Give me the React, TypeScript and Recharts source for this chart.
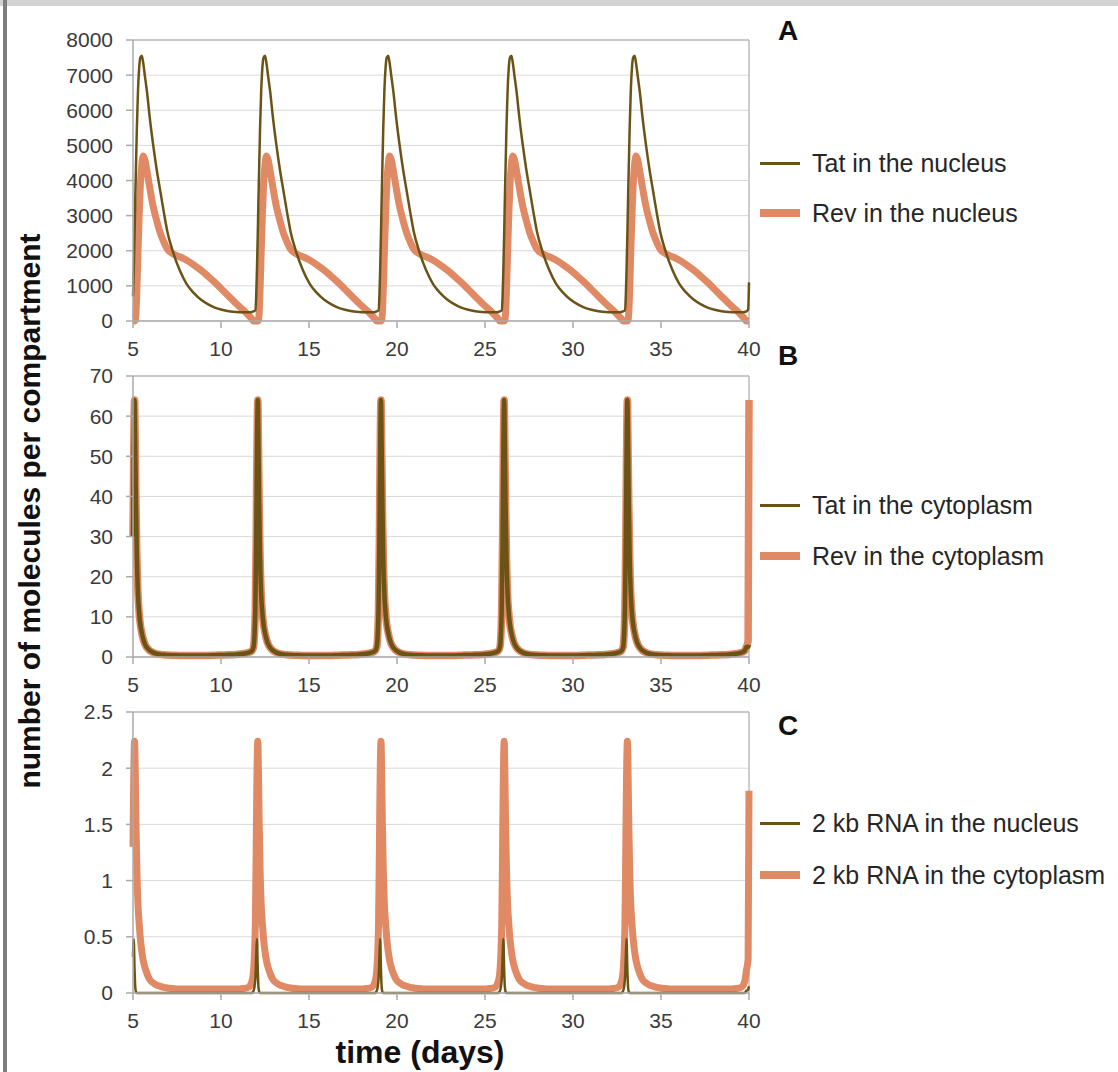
import React from 'react';
import { LineChart, Line, XAxis, YAxis, CartesianGrid, ReferenceLine } from 'recharts';

// time in days
const time = [
  5.0, 5.04, 5.09, 5.13, 5.17, 5.22, 5.28, 5.35, 5.42, 5.5, 5.58, 5.67, 5.8, 5.95, 6.15, 6.35, 6.55, 6.75, 6.95, 7.25, 7.65, 8.05, 8.45, 8.85, 9.25, 9.65, 10.05, 10.45, 10.85, 11.25, 11.55, 11.75, 11.85,
  11.95, 12.0, 12.04, 12.09, 12.13, 12.17, 12.22, 12.28, 12.35, 12.42, 12.5, 12.58, 12.67, 12.8, 12.95, 13.15, 13.35, 13.55, 13.75, 13.95, 14.25, 14.65, 15.05, 15.45, 15.85, 16.25, 16.65, 17.05, 17.45, 17.85, 18.25, 18.55, 18.75, 18.85,
  18.95, 19.0, 19.04, 19.09, 19.13, 19.17, 19.22, 19.28, 19.35, 19.42, 19.5, 19.58, 19.67, 19.8, 19.95, 20.15, 20.35, 20.55, 20.75, 20.95, 21.25, 21.65, 22.05, 22.45, 22.85, 23.25, 23.65, 24.05, 24.45, 24.85, 25.25, 25.55, 25.75, 25.85,
  25.95, 26.0, 26.04, 26.09, 26.13, 26.17, 26.22, 26.28, 26.35, 26.42, 26.5, 26.58, 26.67, 26.8, 26.95, 27.15, 27.35, 27.55, 27.75, 27.95, 28.25, 28.65, 29.05, 29.45, 29.85, 30.25, 30.65, 31.05, 31.45, 31.85, 32.25, 32.55, 32.75, 32.85,
  32.95, 33.0, 33.04, 33.09, 33.13, 33.17, 33.22, 33.28, 33.35, 33.42, 33.5, 33.58, 33.67, 33.8, 33.95, 34.15, 34.35, 34.55, 34.75, 34.95, 35.25, 35.65, 36.05, 36.45, 36.85, 37.25, 37.65, 38.05, 38.45, 38.85, 39.25, 39.55, 39.75, 39.85,
  39.95, 40.0,
];

// Panel A
const tatNucleus = [
  700, 1400, 2500, 3500, 4400, 5500, 6500, 7200, 7500, 7550, 7350, 7000, 6500, 5800, 5000, 4300, 3700, 3100, 2550, 2000, 1450, 1050, 800, 610, 480, 380, 320, 280, 255, 248, 250, 258, 275,
  300, 700, 1400, 2500, 3500, 4400, 5500, 6500, 7200, 7500, 7550, 7350, 7000, 6500, 5800, 5000, 4300, 3700, 3100, 2550, 2000, 1450, 1050, 800, 610, 480, 380, 320, 280, 255, 248, 250, 258, 275,
  300, 700, 1400, 2500, 3500, 4400, 5500, 6500, 7200, 7500, 7550, 7350, 7000, 6500, 5800, 5000, 4300, 3700, 3100, 2550, 2000, 1450, 1050, 800, 610, 480, 380, 320, 280, 255, 248, 250, 258, 275,
  300, 700, 1400, 2500, 3500, 4400, 5500, 6500, 7200, 7500, 7550, 7350, 7000, 6500, 5800, 5000, 4300, 3700, 3100, 2550, 2000, 1450, 1050, 800, 610, 480, 380, 320, 280, 255, 248, 250, 258, 275,
  300, 700, 1400, 2500, 3500, 4400, 5500, 6500, 7200, 7500, 7550, 7350, 7000, 6500, 5800, 5000, 4300, 3700, 3100, 2550, 2000, 1450, 1050, 800, 610, 480, 380, 320, 280, 255, 248, 250, 258, 275,
  320, 1100,
];
const revNucleus = [
  0, 0, 0, 30, 250, 900, 1900, 3000, 3900, 4450, 4700, 4600, 4250, 3800, 3250, 2850, 2500, 2250, 2050, 1920, 1830, 1730, 1600, 1450, 1280, 1100, 900, 700, 500, 320, 170, 60, 0,
  0, 0, 0, 0, 30, 250, 900, 1900, 3000, 3900, 4450, 4700, 4600, 4250, 3800, 3250, 2850, 2500, 2250, 2050, 1920, 1830, 1730, 1600, 1450, 1280, 1100, 900, 700, 500, 320, 170, 60, 0,
  0, 0, 0, 0, 30, 250, 900, 1900, 3000, 3900, 4450, 4700, 4600, 4250, 3800, 3250, 2850, 2500, 2250, 2050, 1920, 1830, 1730, 1600, 1450, 1280, 1100, 900, 700, 500, 320, 170, 60, 0,
  0, 0, 0, 0, 30, 250, 900, 1900, 3000, 3900, 4450, 4700, 4600, 4250, 3800, 3250, 2850, 2500, 2250, 2050, 1920, 1830, 1730, 1600, 1450, 1280, 1100, 900, 700, 500, 320, 170, 60, 0,
  0, 0, 0, 0, 30, 250, 900, 1900, 3000, 3900, 4450, 4700, 4600, 4250, 3800, 3250, 2850, 2500, 2250, 2050, 1920, 1830, 1730, 1600, 1450, 1280, 1100, 900, 700, 500, 320, 170, 60, 0,
  0, 0,
];

// Panel B
const tatCytoplasm = [
  30, 50, 64, 52, 38, 25, 16, 11, 8, 6, 4.5, 3.3, 2.3, 1.6, 1.1, 0.8, 0.65, 0.55, 0.5, 0.45, 0.4, 0.4, 0.4, 0.4, 0.4, 0.45, 0.5, 0.55, 0.65, 0.8, 1.1, 1.5, 2.5,
  12, 30, 50, 64, 52, 38, 25, 16, 11, 8, 6, 4.5, 3.3, 2.3, 1.6, 1.1, 0.8, 0.65, 0.55, 0.5, 0.45, 0.4, 0.4, 0.4, 0.4, 0.4, 0.45, 0.5, 0.55, 0.65, 0.8, 1.1, 1.5, 2.5,
  12, 30, 50, 64, 52, 38, 25, 16, 11, 8, 6, 4.5, 3.3, 2.3, 1.6, 1.1, 0.8, 0.65, 0.55, 0.5, 0.45, 0.4, 0.4, 0.4, 0.4, 0.4, 0.45, 0.5, 0.55, 0.65, 0.8, 1.1, 1.5, 2.5,
  12, 30, 50, 64, 52, 38, 25, 16, 11, 8, 6, 4.5, 3.3, 2.3, 1.6, 1.1, 0.8, 0.65, 0.55, 0.5, 0.45, 0.4, 0.4, 0.4, 0.4, 0.4, 0.45, 0.5, 0.55, 0.65, 0.8, 1.1, 1.5, 2.5,
  12, 30, 50, 64, 52, 38, 25, 16, 11, 8, 6, 4.5, 3.3, 2.3, 1.6, 1.1, 0.8, 0.65, 0.55, 0.5, 0.45, 0.4, 0.4, 0.4, 0.4, 0.4, 0.45, 0.5, 0.55, 0.65, 0.8, 1.1, 1.5, 2.5,
  2.5, 3,
];
const revCytoplasm = [
  30, 50, 64, 52, 38, 25, 16, 11, 8, 6, 4.5, 3.3, 2.3, 1.6, 1.1, 0.8, 0.65, 0.55, 0.5, 0.45, 0.4, 0.4, 0.4, 0.4, 0.4, 0.45, 0.5, 0.55, 0.65, 0.8, 1.1, 1.5, 2.5,
  12, 30, 50, 64, 52, 38, 25, 16, 11, 8, 6, 4.5, 3.3, 2.3, 1.6, 1.1, 0.8, 0.65, 0.55, 0.5, 0.45, 0.4, 0.4, 0.4, 0.4, 0.4, 0.45, 0.5, 0.55, 0.65, 0.8, 1.1, 1.5, 2.5,
  12, 30, 50, 64, 52, 38, 25, 16, 11, 8, 6, 4.5, 3.3, 2.3, 1.6, 1.1, 0.8, 0.65, 0.55, 0.5, 0.45, 0.4, 0.4, 0.4, 0.4, 0.4, 0.45, 0.5, 0.55, 0.65, 0.8, 1.1, 1.5, 2.5,
  12, 30, 50, 64, 52, 38, 25, 16, 11, 8, 6, 4.5, 3.3, 2.3, 1.6, 1.1, 0.8, 0.65, 0.55, 0.5, 0.45, 0.4, 0.4, 0.4, 0.4, 0.4, 0.45, 0.5, 0.55, 0.65, 0.8, 1.1, 1.5, 2.5,
  12, 30, 50, 64, 52, 38, 25, 16, 11, 8, 6, 4.5, 3.3, 2.3, 1.6, 1.1, 0.8, 0.65, 0.55, 0.5, 0.45, 0.4, 0.4, 0.4, 0.4, 0.4, 0.45, 0.5, 0.55, 0.65, 0.8, 1.1, 1.5, 2.5,
  4, 64,
];

// Panel C
const rnaNucleus = [
  0.32, 0.48, 0.2, 0.05, 0.01, 0, 0, 0, 0, 0, 0, 0, 0, 0, 0, 0, 0, 0, 0, 0, 0, 0, 0, 0, 0, 0, 0, 0, 0, 0, 0, 0, 0.02,
  0.12, 0.32, 0.48, 0.2, 0.05, 0.01, 0, 0, 0, 0, 0, 0, 0, 0, 0, 0, 0, 0, 0, 0, 0, 0, 0, 0, 0, 0, 0, 0, 0, 0, 0, 0, 0, 0.02,
  0.12, 0.32, 0.48, 0.2, 0.05, 0.01, 0, 0, 0, 0, 0, 0, 0, 0, 0, 0, 0, 0, 0, 0, 0, 0, 0, 0, 0, 0, 0, 0, 0, 0, 0, 0, 0, 0.02,
  0.12, 0.32, 0.48, 0.2, 0.05, 0.01, 0, 0, 0, 0, 0, 0, 0, 0, 0, 0, 0, 0, 0, 0, 0, 0, 0, 0, 0, 0, 0, 0, 0, 0, 0, 0, 0, 0.02,
  0.12, 0.32, 0.48, 0.2, 0.05, 0.01, 0, 0, 0, 0, 0, 0, 0, 0, 0, 0, 0, 0, 0, 0, 0, 0, 0, 0, 0, 0, 0, 0, 0, 0, 0, 0, 0, 0.02,
  0.03, 0.06,
];
const rnaCytoplasm = [
  1.3, 1.9, 2.24, 1.95, 1.5, 1.1, 0.8, 0.62, 0.48, 0.37, 0.29, 0.23, 0.17, 0.12, 0.09, 0.07, 0.06, 0.05, 0.045, 0.04, 0.035, 0.035, 0.035, 0.035, 0.035, 0.035, 0.035, 0.035, 0.035, 0.04, 0.05, 0.1, 0.2,
  0.6, 1.3, 1.9, 2.24, 1.95, 1.5, 1.1, 0.8, 0.62, 0.48, 0.37, 0.29, 0.23, 0.17, 0.12, 0.09, 0.07, 0.06, 0.05, 0.045, 0.04, 0.035, 0.035, 0.035, 0.035, 0.035, 0.035, 0.035, 0.035, 0.035, 0.04, 0.05, 0.1, 0.2,
  0.6, 1.3, 1.9, 2.24, 1.95, 1.5, 1.1, 0.8, 0.62, 0.48, 0.37, 0.29, 0.23, 0.17, 0.12, 0.09, 0.07, 0.06, 0.05, 0.045, 0.04, 0.035, 0.035, 0.035, 0.035, 0.035, 0.035, 0.035, 0.035, 0.035, 0.04, 0.05, 0.1, 0.2,
  0.6, 1.3, 1.9, 2.24, 1.95, 1.5, 1.1, 0.8, 0.62, 0.48, 0.37, 0.29, 0.23, 0.17, 0.12, 0.09, 0.07, 0.06, 0.05, 0.045, 0.04, 0.035, 0.035, 0.035, 0.035, 0.035, 0.035, 0.035, 0.035, 0.035, 0.04, 0.05, 0.1, 0.2,
  0.6, 1.3, 1.9, 2.24, 1.95, 1.5, 1.1, 0.8, 0.62, 0.48, 0.37, 0.29, 0.23, 0.17, 0.12, 0.09, 0.07, 0.06, 0.05, 0.045, 0.04, 0.035, 0.035, 0.035, 0.035, 0.035, 0.035, 0.035, 0.035, 0.035, 0.04, 0.05, 0.1, 0.2,
  0.3, 1.8,
];

const xTicks = [5, 10, 15, 20, 25, 30, 35, 40];
const yTicksA = [0, 1000, 2000, 3000, 4000, 5000, 6000, 7000, 8000];
const yTicksB = [0, 10, 20, 30, 40, 50, 60, 70];
const yTicksC = [0, 0.5, 1, 1.5, 2, 2.5];

const legendA = ['Tat in the nucleus', 'Rev in the nucleus'];
const legendB = ['Tat in the cytoplasm', 'Rev in the cytoplasm'];
const legendC = ['2 kb RNA in the nucleus', '2 kb RNA in the cytoplasm'];

const BROWN = '#6b5316';
const ORANGE = '#e08a65';
const FONT = '"Liberation Sans", Arial, Helvetica, sans-serif';

const dataA = time.map((t, i) => ({ t, first: tatNucleus[i], second: revNucleus[i] }));
const dataB = time.map((t, i) => ({ t, first: tatCytoplasm[i], second: revCytoplasm[i] }));
const dataC = time.map((t, i) => ({ t, first: rnaNucleus[i], second: rnaCytoplasm[i] }));

type PanelProps = {
  data: any[];
  top: number;
  yTicks: number[];
  yMax: number;
  firstWidth: number;
  secondWidth: number;
  letter: string;
  letterTop: number;
  legend: string[];
  legendY: number[];
};

function Panel({ data, top, yTicks, yMax, firstWidth, secondWidth, letter, letterTop, legend, legendY }: PanelProps) {
  return (
    <>
      <div style={{ position: 'absolute', left: 0, top, width: 1118, height: 361 }}>
        <LineChart width={1118} height={361} data={data} margin={{ top: 40, right: 369, bottom: 5, left: 73 }}>
          <CartesianGrid vertical={false} stroke="#d9d9d9" strokeWidth={1} />
          <XAxis
            type="number"
            dataKey="t"
            domain={[5, 40]}
            ticks={xTicks}
            interval={0}
            height={35}
            tickSize={7}
            tickMargin={13}
            axisLine={{ stroke: '#aaaaaa', strokeWidth: 1.5 }}
            tickLine={{ stroke: '#aaaaaa', strokeWidth: 1.5 }}
            tick={{ fill: '#3a3a3a', fontSize: 21, fontFamily: FONT }}
          />
          <YAxis
            type="number"
            domain={[0, yMax]}
            ticks={yTicks}
            interval={0}
            width={60}
            tickSize={7}
            tickMargin={13}
            axisLine={{ stroke: '#aaaaaa', strokeWidth: 1.5 }}
            tickLine={{ stroke: '#aaaaaa', strokeWidth: 1.5 }}
            tick={{ fill: '#3a3a3a', fontSize: 21, fontFamily: FONT }}
          />
          <ReferenceLine y={yMax} stroke="#bdbdbd" strokeWidth={1.5} />
          <ReferenceLine x={40} stroke="#bdbdbd" strokeWidth={1.5} />
          <Line type="monotone" dataKey="second" stroke={ORANGE} strokeWidth={secondWidth} dot={false} isAnimationActive={false} />
          <Line type="monotone" dataKey="first" stroke={BROWN} strokeWidth={firstWidth} dot={false} isAnimationActive={false} />
        </LineChart>
      </div>
      <div
        style={{
          position: 'absolute',
          left: 778,
          top: letterTop,
          fontFamily: FONT,
          fontWeight: 'bold',
          fontSize: 28,
          lineHeight: '30px',
          color: '#111',
        }}
      >
        {letter}
      </div>
      {legend.map((name, i) => (
        <div
          key={name}
          style={{
            position: 'absolute',
            left: 760,
            top: legendY[i] - 16,
            height: 32,
            display: 'flex',
            alignItems: 'center',
            fontFamily: FONT,
            fontSize: 25,
            color: '#262626',
            whiteSpace: 'nowrap',
          }}
        >
          <span
            style={{
              display: 'inline-block',
              width: 40,
              height: i === 0 ? 3 : 8,
              background: i === 0 ? BROWN : ORANGE,
              marginRight: 12,
            }}
          />
          <span>{name}</span>
        </div>
      ))}
    </>
  );
}

export default function App() {
  return (
    <div style={{ position: 'absolute', left: 0, top: 0, width: 1118, height: 1072, background: '#fff', overflow: 'hidden' }}>
      <div style={{ position: 'absolute', left: 0, top: 0, width: 1118, height: 6, background: '#d2d2d2' }} />
      <div style={{ position: 'absolute', left: 3, top: 0, width: 4, height: 1072, background: '#7d7d7d' }} />
      <Panel data={dataA} top={0} yTicks={yTicksA} yMax={8000} firstWidth={2.5} secondWidth={7} letter="A" letterTop={16} legend={legendA} legendY={[163, 213]} />
      <Panel data={dataB} top={336} yTicks={yTicksB} yMax={70} firstWidth={4.5} secondWidth={7.5} letter="B" letterTop={341} legend={legendB} legendY={[505, 556]} />
      <Panel data={dataC} top={672} yTicks={yTicksC} yMax={2.5} firstWidth={2.5} secondWidth={7} letter="C" letterTop={711} legend={legendC} legendY={[823, 875]} />
      <div
        style={{
          position: 'absolute',
          left: 30 - 350,
          top: 511 - 20,
          width: 700,
          height: 40,
          lineHeight: '40px',
          textAlign: 'center',
          transform: 'rotate(-90deg)',
          fontFamily: FONT,
          fontWeight: 'bold',
          fontSize: 30,
          color: '#111',
          whiteSpace: 'nowrap',
        }}
      >
        number of molecules per compartment
      </div>
      <div
        style={{
          position: 'absolute',
          left: 420 - 200,
          top: 1052 - 20,
          width: 400,
          height: 40,
          lineHeight: '40px',
          textAlign: 'center',
          fontFamily: FONT,
          fontWeight: 'bold',
          fontSize: 32,
          color: '#111',
        }}
      >
        time (days)
      </div>
    </div>
  );
}
